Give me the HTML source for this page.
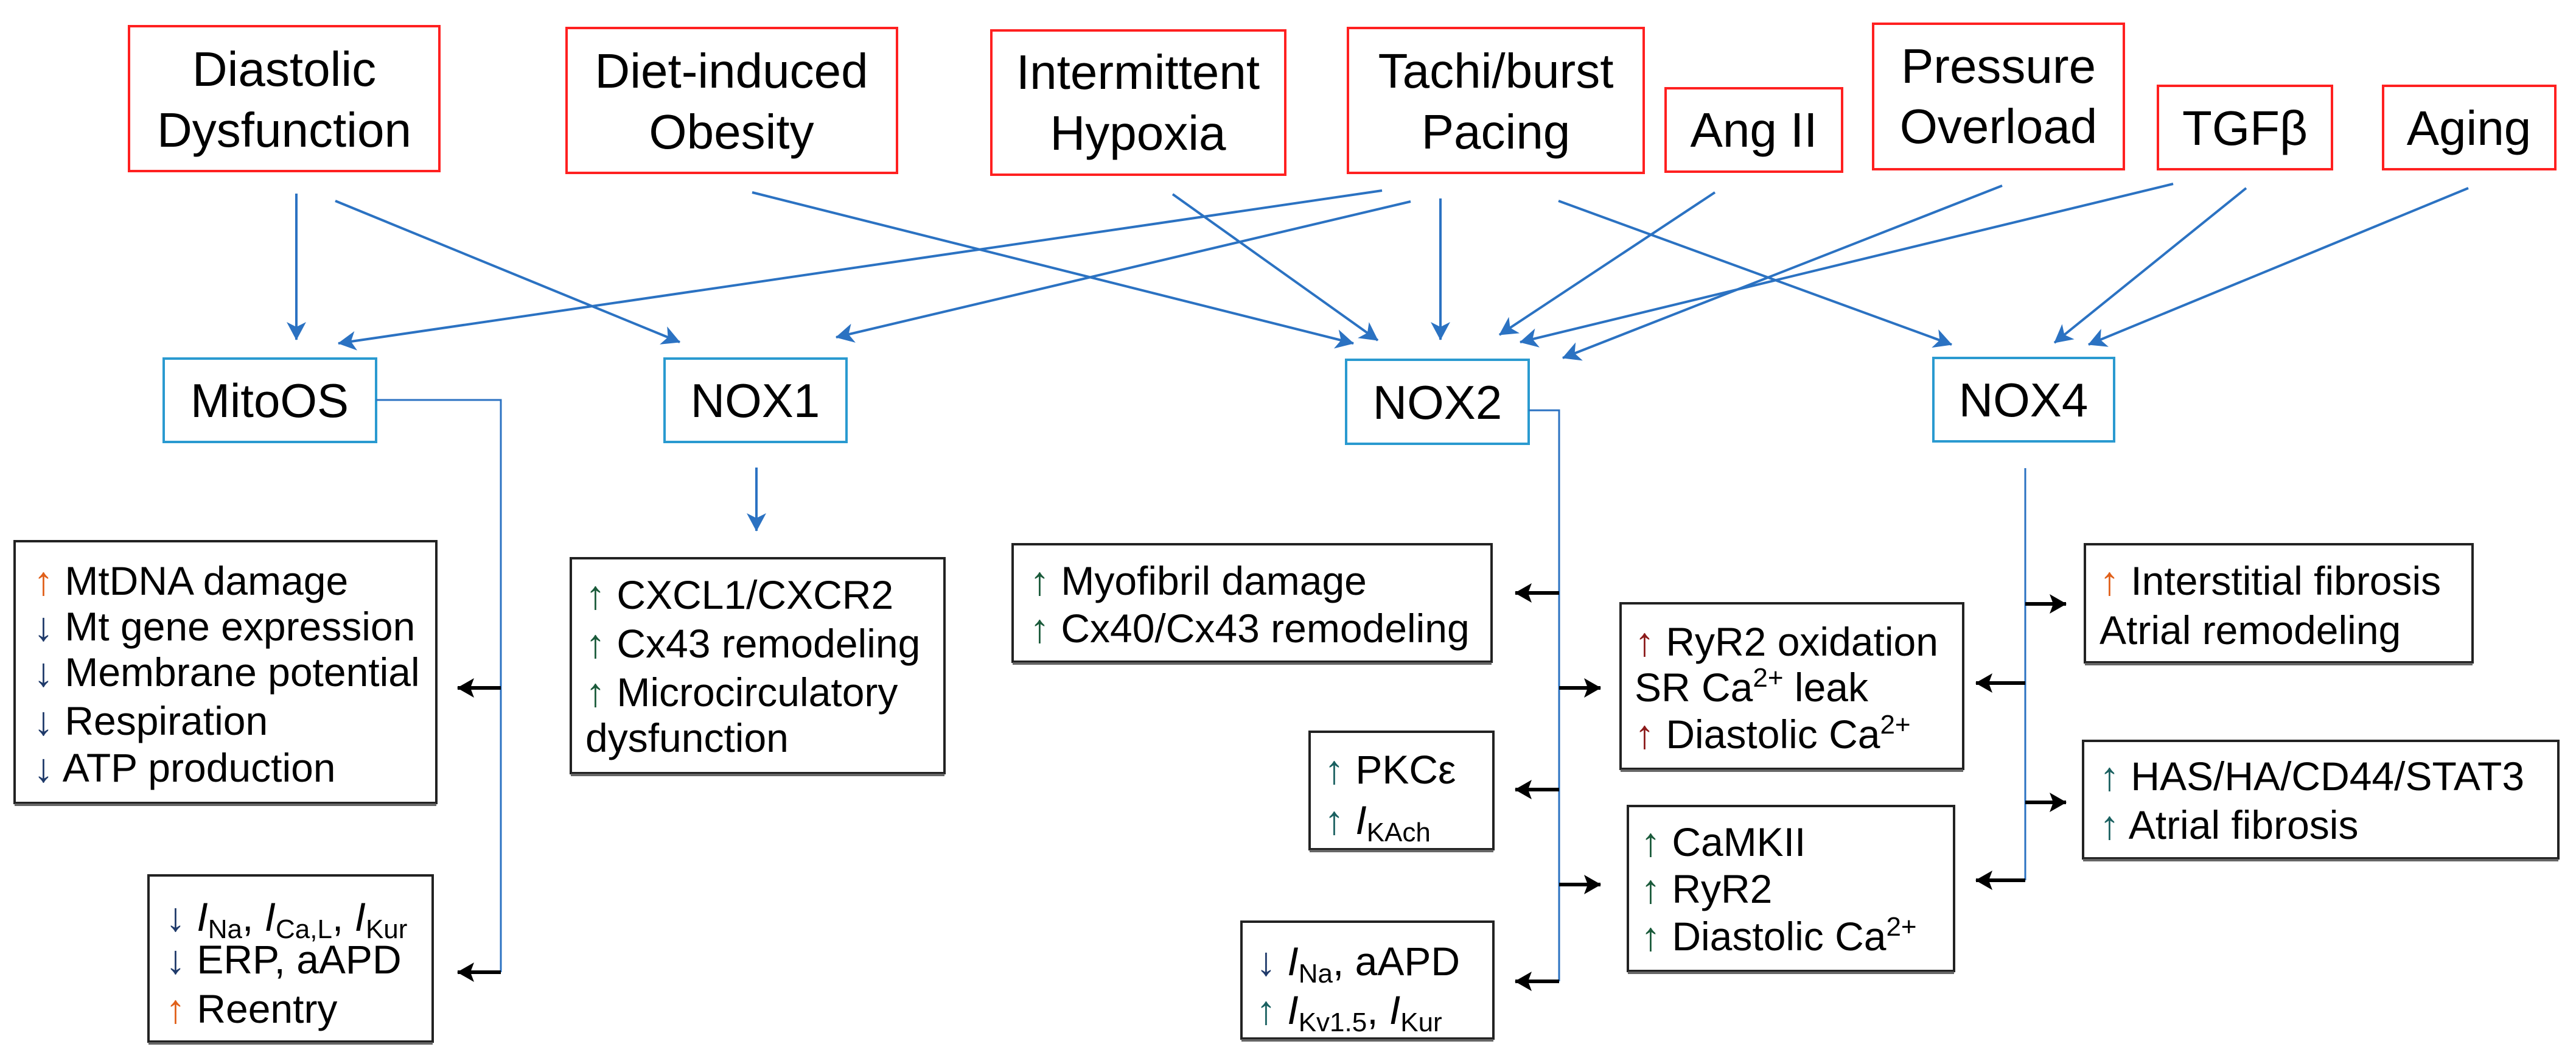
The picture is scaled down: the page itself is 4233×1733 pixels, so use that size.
<!DOCTYPE html>
<html><head><meta charset="utf-8"><style>
html,body{margin:0;padding:0;background:#fff;}
svg{display:block;}
text{font-family:"Liberation Sans",Arial,sans-serif;fill:#000;}
.t{font-size:80px;}
.b{font-size:78px;}
.r{font-size:66px;}
.s{font-size:44px;}
</style></head><body>
<svg width="4233" height="1733" viewBox="0 0 4233 1733" xmlns="http://www.w3.org/2000/svg">
<defs>
<marker id="ba" markerWidth="8" markerHeight="8" refX="7" refY="4" orient="auto" markerUnits="userSpaceOnUse" viewBox="0 0 8 8" style="overflow:visible">
<path d="M-22,-12 L8,4 L-22,20 L-14,4 Z" fill="#2b72c2"/>
</marker>
<marker id="ka" markerWidth="8" markerHeight="8" refX="7" refY="4" orient="auto" markerUnits="userSpaceOnUse" viewBox="0 0 8 8" style="overflow:visible">
<path d="M-20,-12 L8,4 L-20,20 L-14,4 Z" fill="#000"/>
</marker>
</defs>

<g fill="#fff" stroke="#ff2020" stroke-width="4">
<rect x="212" y="43" width="510" height="238"/>
<rect x="931" y="46" width="543" height="238"/>
<rect x="1629" y="50" width="483" height="237"/>
<rect x="2215" y="46" width="486" height="238"/>
<rect x="2737" y="145" width="290" height="137"/>
<rect x="3078" y="39" width="412" height="239"/>
<rect x="3546" y="141" width="286" height="137"/>
<rect x="3916" y="141" width="283" height="137"/>
</g>
<g class="t" text-anchor="middle">
<text x="467" y="141">Diastolic</text><text x="467" y="241">Dysfunction</text>
<text x="1202" y="144">Diet-induced</text><text x="1202" y="244">Obesity</text>
<text x="1870" y="146">Intermittent</text><text x="1870" y="246">Hypoxia</text>
<text x="2458" y="144">Tachi/burst</text><text x="2458" y="244">Pacing</text>
<text x="2882" y="241">Ang II</text>
<text x="3284" y="136">Pressure</text><text x="3284" y="235">Overload</text>
<text x="3689" y="238">TGFβ</text>
<text x="4057" y="238">Aging</text>
</g>

<g fill="#fff" stroke="#2a9ad0" stroke-width="4">
<rect x="269" y="589" width="349" height="137"/>
<rect x="1092" y="589" width="299" height="137"/>
<rect x="2212" y="591" width="300" height="138"/>
<rect x="3177" y="588" width="297" height="137"/>
</g>
<g class="b" text-anchor="middle">
<text x="443" y="685">MitoOS</text>
<text x="1241" y="685">NOX1</text>
<text x="2362" y="688">NOX2</text>
<text x="3325" y="684">NOX4</text>
</g>

<g stroke="#2b72c2" stroke-width="4" fill="none" marker-end="url(#ba)">
<line x1="487" y1="318" x2="487" y2="558"/>
<line x1="551" y1="330" x2="1117" y2="562"/>
<line x1="1236" y1="316" x2="2224" y2="564"/>
<line x1="1927" y1="319" x2="2264" y2="559"/>
<line x1="2271" y1="313" x2="556" y2="564"/>
<line x1="2318" y1="331" x2="1374" y2="554"/>
<line x1="2367" y1="326" x2="2367" y2="558"/>
<line x1="2561" y1="330" x2="3207" y2="566"/>
<line x1="2818" y1="316" x2="2464" y2="550"/>
<line x1="3290" y1="305" x2="2568" y2="588"/>
<line x1="3571" y1="302" x2="2498" y2="562"/>
<line x1="3691" y1="309" x2="3376" y2="563"/>
<line x1="4056" y1="309" x2="3432" y2="566"/>
<line x1="1243" y1="768" x2="1243" y2="872"/>
</g>
<g stroke="#2b72c2" stroke-width="3" fill="none">
<polyline points="618,657 823,657 823,1597"/>
<polyline points="2512,674 2562,674 2562,1612"/>
<line x1="3328" y1="769" x2="3328" y2="1446"/>
</g>

<g stroke="#000" stroke-width="6" fill="none" marker-end="url(#ka)">
<line x1="823" y1="1130" x2="752" y2="1130"/>
<line x1="823" y1="1597" x2="752" y2="1597"/>
<line x1="2562" y1="974" x2="2490" y2="974"/>
<line x1="2562" y1="1130" x2="2630" y2="1130"/>
<line x1="2562" y1="1297" x2="2490" y2="1297"/>
<line x1="2562" y1="1453" x2="2630" y2="1453"/>
<line x1="2562" y1="1612" x2="2490" y2="1612"/>
<line x1="3328" y1="992" x2="3395" y2="992"/>
<line x1="3328" y1="1122" x2="3247" y2="1122"/>
<line x1="3328" y1="1318" x2="3395" y2="1318"/>
<line x1="3328" y1="1446" x2="3247" y2="1446"/>
</g>

<g fill="#fff" stroke="#222" stroke-width="4">
<rect x="24" y="889" width="693" height="430"/>
<rect x="244" y="1438" width="467" height="273"/>
<rect x="938" y="917" width="614" height="353"/>
<rect x="1664" y="894" width="787" height="193"/>
<rect x="2040" y="1514" width="414" height="192"/>
<rect x="2152" y="1202" width="302" height="193"/>
<rect x="2663" y="991" width="563" height="272"/>
<rect x="2675" y="1324" width="536" height="271"/>
<rect x="3426" y="894" width="637" height="194"/>
<rect x="3423" y="1217" width="781" height="193"/>
</g>
<g stroke="#666" stroke-width="4">
<line x1="24" y1="1322" x2="717" y2="1322"/>
<line x1="244" y1="1714" x2="711" y2="1714"/>
<line x1="938" y1="1273" x2="1552" y2="1273"/>
<line x1="1664" y1="1090" x2="2451" y2="1090"/>
<line x1="2040" y1="1709" x2="2454" y2="1709"/>
<line x1="2152" y1="1398" x2="2454" y2="1398"/>
<line x1="2663" y1="1266" x2="3226" y2="1266"/>
<line x1="2675" y1="1598" x2="3211" y2="1598"/>
<line x1="3426" y1="1091" x2="4063" y2="1091"/>
<line x1="3423" y1="1413" x2="4204" y2="1413"/>
</g>

<g class="r">
<text x="55" y="977"><tspan fill="#e0601a">↑</tspan> MtDNA damage</text>
<text x="55" y="1052"><tspan fill="#1f3a6a">↓</tspan> Mt gene expression</text>
<text x="55" y="1127"><tspan fill="#1f3a6a">↓</tspan> Membrane potential</text>
<text x="55" y="1207"><tspan fill="#1f3a6a">↓</tspan> Respiration</text>
<text x="55" y="1284"><tspan fill="#1f3a6a">↓</tspan> ATP production</text>
<text x="272" y="1529"><tspan fill="#1f3a6a">↓</tspan> <tspan font-style="italic">I</tspan><tspan class="s" dy="12">Na</tspan><tspan dy="-12">, </tspan><tspan font-style="italic">I</tspan><tspan class="s" dy="12">Ca,L</tspan><tspan dy="-12">, </tspan><tspan font-style="italic">I</tspan><tspan class="s" dy="12">Kur</tspan></text>
<text x="272" y="1599"><tspan fill="#1f3a6a">↓</tspan> ERP, aAPD</text>
<text x="272" y="1680"><tspan fill="#e0601a">↑</tspan> Reentry</text>
<text x="962" y="1000"><tspan fill="#1a5a3a">↑</tspan> CXCL1/CXCR2</text>
<text x="962" y="1080"><tspan fill="#1a5a3a">↑</tspan> Cx43 remodeling</text>
<text x="962" y="1160"><tspan fill="#1a5a3a">↑</tspan> Microcirculatory</text>
<text x="962" y="1235">dysfunction</text>
<text x="1692" y="977"><tspan fill="#1a5a3a">↑</tspan>  Myofibril damage</text>
<text x="1692" y="1055"><tspan fill="#1a5a3a">↑</tspan> Cx40/Cx43 remodeling</text>
<text x="2176" y="1287"><tspan fill="#1a6060">↑</tspan>  PKCε</text>
<text x="2176" y="1370"><tspan fill="#1a6060">↑</tspan> <tspan font-style="italic">I</tspan><tspan class="s" dy="12">KAch</tspan></text>
<text x="2064" y="1602"><tspan fill="#1f3a6a">↓</tspan> <tspan font-style="italic">I</tspan><tspan class="s" dy="12">Na</tspan><tspan dy="-12">, aAPD</tspan></text>
<text x="2064" y="1682"><tspan fill="#1a6060">↑</tspan> <tspan font-style="italic">I</tspan><tspan class="s" dy="12">Kv1.5</tspan><tspan dy="-12">, </tspan><tspan font-style="italic">I</tspan><tspan class="s" dy="12">Kur</tspan></text>
<text x="2686" y="1077"><tspan fill="#8b1a1a">↑</tspan> RyR2 oxidation</text>
<text x="2686" y="1152">SR Ca<tspan class="s" dy="-24">2+</tspan><tspan dy="24"> leak</tspan></text>
<text x="2686" y="1229"><tspan fill="#8b1a1a">↑</tspan> Diastolic Ca<tspan class="s" dy="-24">2+</tspan></text>
<text x="2696" y="1406"><tspan fill="#1a5a3a">↑</tspan> CaMKII</text>
<text x="2696" y="1483"><tspan fill="#1a5a3a">↑</tspan> RyR2</text>
<text x="2696" y="1561"><tspan fill="#1a5a3a">↑</tspan> Diastolic Ca<tspan class="s" dy="-24">2+</tspan></text>
<text x="3450" y="977"><tspan fill="#e0601a">↑</tspan>  Interstitial fibrosis</text>
<text x="3450" y="1058">Atrial remodeling</text>
<text x="3450" y="1298"><tspan fill="#1a6060">↑</tspan>  HAS/HA/CD44/STAT3</text>
<text x="3450" y="1378"><tspan fill="#1a6060">↑</tspan> Atrial fibrosis</text>
</g>
</svg>
</body></html>
